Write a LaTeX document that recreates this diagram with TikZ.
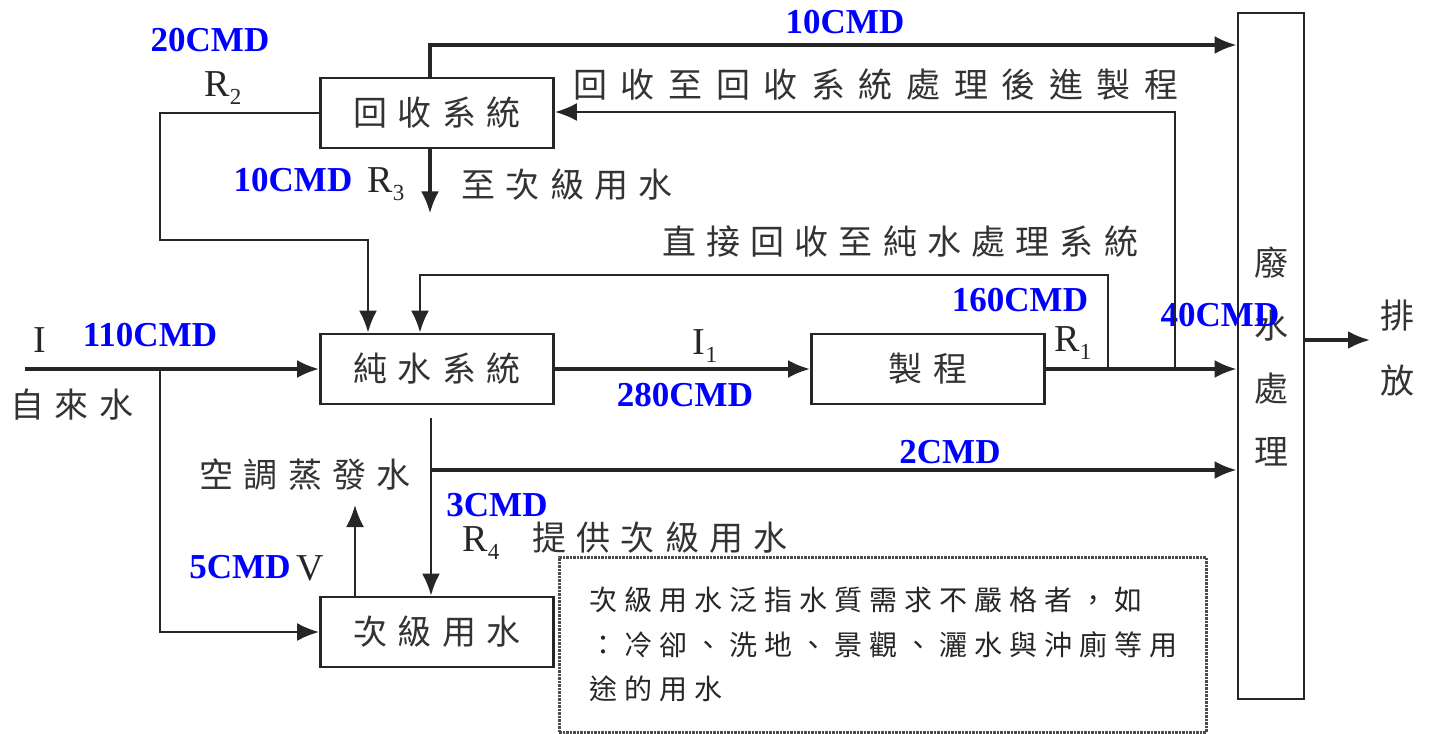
\documentclass[tikz,border=0pt]{standalone}
\usepackage{fontspec}
\setmainfont{Liberation Serif}
\newfontfamily\cjk[LetterSpace=30]{Noto Sans CJK TC}
\newfontfamily\cjkw[LetterSpace=40]{Noto Sans CJK TC}
\newfontfamily\cjkn[LetterSpace=25]{Noto Sans CJK TC}
\newfontfamily\cjkv{Noto Sans CJK TC}
\newcommand\lo[1]{\raisebox{-0.2em}{\fontsize{23}{23}\selectfont #1}}
\usetikzlibrary{positioning,arrows.meta}
\tikzset{
  bx/.style={rectangle, minimum width=233pt, minimum height=70pt, inner sep=0pt, text centered, draw=black!85, line width=2.8pt, font=\cjk\fontsize{34}{40}\selectfont, text=black!80},
  lb/.style={inner sep=0pt, font=\cjk\fontsize{34}{40}\selectfont, text=black!80},
  rs/.style={inner sep=0pt, font=\fontsize{38}{40}\selectfont, text=black!85},
  fl/.style={inner sep=0pt, font=\bfseries\fontsize{35}{38}\selectfont, text=blue},
  nt/.style={rectangle, draw=black!70, densely dotted, line width=2.5pt, minimum width=647pt, minimum height=175pt, text width=587pt, inner xsep=30pt, align=left, font=\cjkn\fontsize{28}{44.5}\selectfont, text=black!85},
  >={Latex[length=22pt,width=18pt]}
}
\begin{document}
\begin{tikzpicture}[x=1pt, y=-1pt, line width=3.2pt, color=black!85]
	\useasboundingbox (0,0) rectangle (1431,733);
	\node[bx] (rec) at (437,113) {回收系統};
	\node[bx] (pw) at (437,369) {純水系統};
	\node[bx] (pr) at (928,369) {製程};
	\node[bx] (sub) at (437,632) {次級用水};
	\node[bx, minimum width=66pt, minimum height=686pt, align=center, font=\cjkv\fontsize{34}{63}\selectfont] (wt) at (1271,356) {廢\\水\\處\\理};
	\node[nt, anchor=north west] (note) at (558,556) {次級用水泛指水質需求不嚴格者，如\\：冷卻、洗地、景觀、灑水與沖廁等用\\途的用水};
	%
	\node[fl] (q20) at (210,40) {20CMD};
	\node[rs] (r2l) at (223,88) {R\lo{2}};
	\node[fl] (q10a) at (845,22) {10CMD};
	\node[lb, font=\cjkw\fontsize{34}{40}\selectfont] (l1) at (876,85) {回收至回收系統處理後進製程};
	\node[fl] (q10b) at (293,180) {10CMD};
	\node[rs] (r3l) at (386,184) {R\lo{3}};
	\node[lb] (l2) at (567,185) {至次級用水};
	\node[lb] (l3) at (900,242) {直接回收至純水處理系統};
	\node[fl] (q160) at (1020,300) {160CMD};
	\node[rs] (r1l) at (1073,343) {R\lo{1}};
	\node[fl] (q40) at (1220,315) {40CMD};
	\node[rs] (il) at (40,340) {I};
	\node[fl] (q110) at (150,335) {110CMD};
	\node[lb] (l4) at (72,405) {自來水};
	\node[rs] (i1l) at (705,346) {I\lo{1}};
	\node[fl] (q280) at (685,395) {280CMD};
	\node[lb] (l5) at (305,475) {空調蒸發水};
	\node[fl] (q2) at (950,452) {2CMD};
	\node[fl] (q3) at (497,505) {3CMD};
	\node[rs] (r4l) at (481,543) {R\lo{4}};
	\node[lb] (l6) at (660,538) {提供次級用水};
	\node[fl] (q5) at (240,567) {5CMD};
	\node[rs] (vl) at (310,568) {V};
	\node[lb, align=center, font=\cjkv\fontsize{34}{65}\selectfont] (l7) at (1397,348) {排\\放};
	%
	\coordinate (tp) at (430,45);
	\coordinate (ra) at (1175,112);
	\coordinate (r2) at (160,240);
	\coordinate (r1) at (1108,275);
	\coordinate (in) at (25,369);
	\coordinate (br) at (160,369);
	\coordinate (ac) at (431,418);
	\coordinate (acj) at (431,470);
	\coordinate (v) at (355,505);
	\coordinate (out) at (1370,340);
	%
	\draw[->] (rec.north -| tp) -- (tp) -- (tp -| wt.west);
	\draw[->, line width=2.5pt] (ra |- pr.east) -- (ra) -- (ra -| rec.east);
	\draw[->, line width=2.5pt] (rec.west) -| (r2) -| ([xshift=-69pt]pw.north);
	\draw[->] (rec.south -| tp) -- ++(0,64);
	\draw[->, line width=2.5pt] (r1 |- pr.east) -- (r1) -| ([xshift=-17pt]pw.north);
	\draw[->] (in) -- (pw.west);
	\draw[->, line width=2.5pt] (br) |- (sub.west);
	\draw[->] (pw) -- (pr);
	\draw[->] (pr.east) -- (pr.east -| wt.west);
	\draw[->, line width=2.5pt] (ac) -- (ac |- sub.north);
	\draw[->] (acj) -- (acj -| wt.west);
	\draw[->, line width=2.5pt] (v |- sub.north) -- (v);
	\draw[->] (out -| wt.east) -- (out);
\end{tikzpicture}
\end{document}
